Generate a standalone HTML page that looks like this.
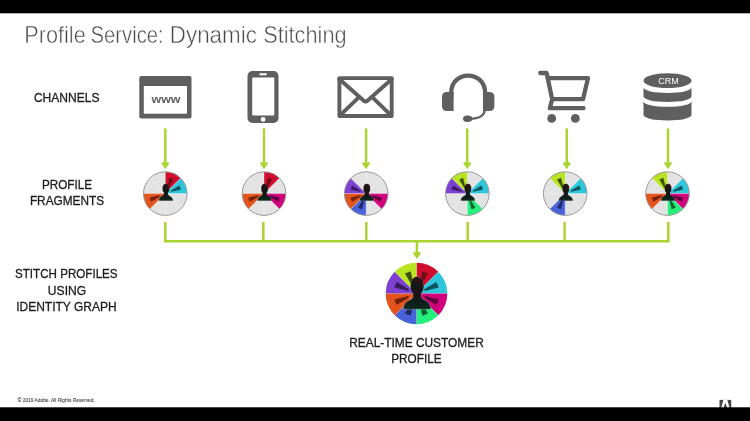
<!DOCTYPE html>
<html><head><meta charset="utf-8">
<style>
html,body{margin:0;padding:0;background:#fff;}
body{width:750px;height:421px;overflow:hidden;position:relative;font-family:"Liberation Sans",sans-serif;}
svg{will-change:transform;position:absolute;left:0;top:0;display:block;}
text{font-family:"Liberation Sans",sans-serif;}
</style></head>
<body>
<svg width="750" height="421" viewBox="0 0 750 421">
<defs><filter id="soft" filterUnits="userSpaceOnUse" x="-40" y="-40" width="830" height="501"><feGaussianBlur stdDeviation="0.42"/></filter><linearGradient id="ph" x1="0.7" y1="0" x2="0.3" y2="1"><stop offset="0" stop-color="#35101a"/><stop offset="0.6" stop-color="#141414"/></linearGradient><linearGradient id="pb" x1="0.5" y1="0" x2="0.5" y2="1"><stop offset="0.2" stop-color="#141414"/><stop offset="1" stop-color="#0a2a20"/></linearGradient></defs>
<g filter="url(#soft)">
<rect x="-30" y="-30" width="810" height="481" fill="#fff"/>
<text x="24.20" y="43.4" font-size="23.2" fill="#484848" stroke="#fff" stroke-width="0.5" textLength="61.60" lengthAdjust="spacingAndGlyphs">Profile</text>
<text x="90.50" y="43.4" font-size="23.2" fill="#484848" stroke="#fff" stroke-width="0.5" textLength="73.20" lengthAdjust="spacingAndGlyphs">Service:</text>
<text x="169.80" y="43.4" font-size="23.2" fill="#484848" stroke="#fff" stroke-width="0.5" textLength="87.10" lengthAdjust="spacingAndGlyphs">Dynamic</text>
<text x="263.20" y="43.4" font-size="23.2" fill="#484848" stroke="#fff" stroke-width="0.5" textLength="83.40" lengthAdjust="spacingAndGlyphs">Stitching</text>
<text x="66.7" y="102.3" font-size="13" fill="#1c1c1c" stroke="#1c1c1c" stroke-width="0.3" text-anchor="middle" textLength="65.6" lengthAdjust="spacingAndGlyphs" font-weight="400">CHANNELS</text>
<text x="67" y="189" font-size="13" fill="#1c1c1c" stroke="#1c1c1c" stroke-width="0.3" text-anchor="middle" textLength="50.2" lengthAdjust="spacingAndGlyphs" font-weight="400">PROFILE</text>
<text x="67" y="205.3" font-size="13" fill="#1c1c1c" stroke="#1c1c1c" stroke-width="0.3" text-anchor="middle" textLength="74.19999999999999" lengthAdjust="spacingAndGlyphs" font-weight="400">FRAGMENTS</text>
<text x="66.3" y="278.4" font-size="13" fill="#1c1c1c" stroke="#1c1c1c" stroke-width="0.3" text-anchor="middle" textLength="102.6" lengthAdjust="spacingAndGlyphs" font-weight="400">STITCH PROFILES</text>
<text x="67" y="294.8" font-size="13" fill="#1c1c1c" stroke="#1c1c1c" stroke-width="0.3" text-anchor="middle" textLength="38.300000000000004" lengthAdjust="spacingAndGlyphs" font-weight="400">USING</text>
<text x="66.4" y="311.4" font-size="13" fill="#1c1c1c" stroke="#1c1c1c" stroke-width="0.3" text-anchor="middle" textLength="100.39999999999999" lengthAdjust="spacingAndGlyphs" font-weight="400">IDENTITY GRAPH</text>
<text x="416.5" y="347" font-size="13" fill="#1c1c1c" stroke="#1c1c1c" stroke-width="0.3" text-anchor="middle" textLength="134.6" lengthAdjust="spacingAndGlyphs" font-weight="400">REAL-TIME CUSTOMER</text>
<text x="416.4" y="363.1" font-size="13" fill="#1c1c1c" stroke="#1c1c1c" stroke-width="0.3" text-anchor="middle" textLength="50.4" lengthAdjust="spacingAndGlyphs" font-weight="400">PROFILE</text>
<text x="17.8" y="402.3" font-size="5.0" fill="#505050" stroke="#505050" stroke-width="0.12" text-anchor="start" textLength="77.0" lengthAdjust="spacingAndGlyphs" font-weight="400">© 2019 Adobe.  All Rights Reserved.</text>

<!-- www -->
<rect x="139.3" y="76.1" width="52.2" height="42.3" rx="2" fill="#5f5f5f"/>
<rect x="143.8" y="86" width="43.2" height="27.7" fill="#fff"/>
<text x="166" y="102.6" font-size="10.5" font-weight="700" fill="#5f5f5f" text-anchor="middle" textLength="29" lengthAdjust="spacingAndGlyphs">www</text>
<!-- phone -->
<rect x="247.5" y="71" width="31" height="52" rx="5" fill="#5f5f5f"/>
<rect x="252.2" y="77.5" width="22.1" height="38.1" rx="0.8" fill="#fff"/>
<rect x="259.3" y="73.2" width="7.6" height="2" rx="1" fill="#fff"/>
<circle cx="263.1" cy="119.4" r="2.4" fill="#fff"/>
<!-- mail -->
<g fill="none" stroke="#5f5f5f" stroke-width="3.9" stroke-linejoin="round" stroke-linecap="round">
<rect x="339.4" y="78.1" width="52.3" height="37.9"/>
<path d="M339.2,79 L363.5,100.5 Q365.6,102.4 367.7,100.5 L391.9,79"/>
<path d="M340,115.4 L358,98.2 M391.1,115.4 L373.2,98.2"/>
</g>
<!-- headset -->
<g>
<path d="M451.2,98 V93 C451.2,69.800 485.1,69.800 485.1,93 V98" fill="none" stroke="#5f5f5f" stroke-width="4.3"/>
<path d="M453.6,92 H447 Q442,92 442,97 V106 Q442,111 447,111 H453.6 Z" fill="#5f5f5f"/>
<path d="M483,92 H489.4 Q494.4,92 494.4,97 V106 Q494.4,111 489.4,111 H483 Z" fill="#5f5f5f"/>
<path d="M484.8,109 C484.8,116 478,118.800 470,118.800" fill="none" stroke="#5f5f5f" stroke-width="2.4"/>
<ellipse cx="467.6" cy="118.8" rx="4.6" ry="3.2" fill="#5f5f5f"/>
</g>
<!-- cart -->
<g fill="none" stroke="#5f5f5f" stroke-width="4.3" stroke-linejoin="round" stroke-linecap="round">
<path d="M540.3,73 H546.6 L552.2,99.2 L549.8,108.2 H583.5"/>
<path d="M548.5,78.2 H588 L583,99.2 H552.4"/>
</g>
<circle cx="551.7" cy="118.4" r="4.4" fill="#5f5f5f"/>
<circle cx="575.3" cy="118.4" r="4.4" fill="#5f5f5f"/>
<!-- crm -->
<g fill="#5f5f5f">
<path d="M643.5,101.3 A24,5.500 0 0 0 691.5,101.3 V115 A24,5.500 0 0 1 643.5,115 Z"/>
<path d="M643.5,87.5 A24,5.500 0 0 0 691.5,87.5 V96.5 A24,5.500 0 0 1 643.5,96.5 Z"/>
<ellipse cx="667.5" cy="80.7" rx="24" ry="7.4"/>
<text x="668.5" y="84.2" font-size="9.4" fill="#fff" text-anchor="middle" textLength="20.5" lengthAdjust="spacingAndGlyphs">CRM</text>
</g>

<path d="M165.3,128.4 V166.2" stroke="#a9d432" stroke-width="2.5" fill="none"/><path d="M162.20000000000002,162.4 L165.3,167.0 L168.4,162.4" stroke="#a9d432" stroke-width="2.5" fill="none" stroke-linejoin="miter"/>
<path d="M264,128.4 V166.2" stroke="#a9d432" stroke-width="2.5" fill="none"/><path d="M260.9,162.4 L264,167.0 L267.1,162.4" stroke="#a9d432" stroke-width="2.5" fill="none" stroke-linejoin="miter"/>
<path d="M366.1,128.4 V166.2" stroke="#a9d432" stroke-width="2.5" fill="none"/><path d="M363.0,162.4 L366.1,167.0 L369.20000000000005,162.4" stroke="#a9d432" stroke-width="2.5" fill="none" stroke-linejoin="miter"/>
<path d="M467.2,128.4 V166.2" stroke="#a9d432" stroke-width="2.5" fill="none"/><path d="M464.09999999999997,162.4 L467.2,167.0 L470.3,162.4" stroke="#a9d432" stroke-width="2.5" fill="none" stroke-linejoin="miter"/>
<path d="M566.8,128.4 V166.2" stroke="#a9d432" stroke-width="2.5" fill="none"/><path d="M563.6999999999999,162.4 L566.8,167.0 L569.9,162.4" stroke="#a9d432" stroke-width="2.5" fill="none" stroke-linejoin="miter"/>
<path d="M668,128.4 V166.2" stroke="#a9d432" stroke-width="2.5" fill="none"/><path d="M664.9,162.4 L668,167.0 L671.1,162.4" stroke="#a9d432" stroke-width="2.5" fill="none" stroke-linejoin="miter"/>
<g>
<circle cx="165.3" cy="193.6" r="21.8" fill="#e3e3e3"/>
<path d="M165.30,193.60 L165.30,171.80 A21.80,21.80 0 0 1 180.71,178.19 Z" fill="#d0112f"/>
<path d="M165.30,193.60 L180.71,178.19 A21.80,21.80 0 0 1 187.10,193.60 Z" fill="#2ec6da"/>
<path d="M165.30,193.60 L149.89,209.01 A21.80,21.80 0 0 1 143.50,193.60 Z" fill="#e3531b"/>
<line x1="165.3" y1="193.6" x2="165.30" y2="171.80" stroke="#fff" stroke-width="0.7" stroke-opacity="0.55"/>
<line x1="165.3" y1="193.6" x2="180.71" y2="178.19" stroke="#fff" stroke-width="0.7" stroke-opacity="0.55"/>
<line x1="165.3" y1="193.6" x2="187.10" y2="193.60" stroke="#fff" stroke-width="0.7" stroke-opacity="0.55"/>
<line x1="165.3" y1="193.6" x2="180.71" y2="209.01" stroke="#fff" stroke-width="0.7" stroke-opacity="0.55"/>
<line x1="165.3" y1="193.6" x2="165.30" y2="215.40" stroke="#fff" stroke-width="0.7" stroke-opacity="0.55"/>
<line x1="165.3" y1="193.6" x2="149.89" y2="209.01" stroke="#fff" stroke-width="0.7" stroke-opacity="0.55"/>
<line x1="165.3" y1="193.6" x2="143.50" y2="193.60" stroke="#fff" stroke-width="0.7" stroke-opacity="0.55"/>
<line x1="165.3" y1="193.6" x2="149.89" y2="178.19" stroke="#fff" stroke-width="0.7" stroke-opacity="0.55"/>
<polygon points="168.24,188.21 173.49,179.53 169.46,177.86 167.03,187.71" fill="#6e0818"/>
<polygon points="171.19,191.87 181.04,189.44 179.37,185.41 170.69,190.66" fill="#10535e"/>
<polygon points="159.41,195.33 149.56,197.76 151.23,201.79 159.91,196.54" fill="#74200c"/>
<circle cx="165.3" cy="193.6" r="21.8" fill="none" stroke="#9a9a9a" stroke-width="1"/>
<path d="M167.90,191.80 L167.90,194.10 C168.20,195.40 169.50,195.80 170.60,196.40 C172.00,197.20 172.90,198.40 173.00,200.80 L158.80,200.80 C158.90,198.40 159.80,197.20 161.20,196.40 C162.30,195.80 163.60,195.40 163.90,194.10 L163.90,191.80 Z" fill="url(#pb)" stroke="#d8d8d8" stroke-opacity="0.35" stroke-width="0.50"/><ellipse cx="165.90" cy="188.40" rx="3.40" ry="4.60" fill="url(#ph)" stroke="#d8d8d8" stroke-opacity="0.25" stroke-width="0.40"/><rect x="164.00" y="191.30" width="3.80" height="3.00" fill="#161616"/>
</g>
<g>
<circle cx="264" cy="193.6" r="21.8" fill="#e3e3e3"/>
<path d="M264.00,193.60 L264.00,171.80 A21.80,21.80 0 0 1 279.41,178.19 Z" fill="#d0112f"/>
<path d="M264.00,193.60 L285.80,193.60 A21.80,21.80 0 0 1 279.41,209.01 Z" fill="#d1007d"/>
<path d="M264.00,193.60 L248.59,209.01 A21.80,21.80 0 0 1 242.20,193.60 Z" fill="#e3531b"/>
<line x1="264" y1="193.6" x2="264.00" y2="171.80" stroke="#fff" stroke-width="0.7" stroke-opacity="0.55"/>
<line x1="264" y1="193.6" x2="279.41" y2="178.19" stroke="#fff" stroke-width="0.7" stroke-opacity="0.55"/>
<line x1="264" y1="193.6" x2="285.80" y2="193.60" stroke="#fff" stroke-width="0.7" stroke-opacity="0.55"/>
<line x1="264" y1="193.6" x2="279.41" y2="209.01" stroke="#fff" stroke-width="0.7" stroke-opacity="0.55"/>
<line x1="264" y1="193.6" x2="264.00" y2="215.40" stroke="#fff" stroke-width="0.7" stroke-opacity="0.55"/>
<line x1="264" y1="193.6" x2="248.59" y2="209.01" stroke="#fff" stroke-width="0.7" stroke-opacity="0.55"/>
<line x1="264" y1="193.6" x2="242.20" y2="193.60" stroke="#fff" stroke-width="0.7" stroke-opacity="0.55"/>
<line x1="264" y1="193.6" x2="248.59" y2="178.19" stroke="#fff" stroke-width="0.7" stroke-opacity="0.55"/>
<polygon points="266.94,188.21 272.19,179.53 268.16,177.86 265.73,187.71" fill="#6e0818"/>
<polygon points="269.39,196.54 278.07,201.79 279.74,197.76 269.89,195.33" fill="#5e0038"/>
<polygon points="258.11,195.33 248.26,197.76 249.93,201.79 258.61,196.54" fill="#74200c"/>
<circle cx="264" cy="193.6" r="21.8" fill="none" stroke="#9a9a9a" stroke-width="1"/>
<path d="M266.60,191.80 L266.60,194.10 C266.90,195.40 268.20,195.80 269.30,196.40 C270.70,197.20 271.60,198.40 271.70,200.80 L257.50,200.80 C257.60,198.40 258.50,197.20 259.90,196.40 C261.00,195.80 262.30,195.40 262.60,194.10 L262.60,191.80 Z" fill="url(#pb)" stroke="#d8d8d8" stroke-opacity="0.35" stroke-width="0.50"/><ellipse cx="264.60" cy="188.40" rx="3.40" ry="4.60" fill="url(#ph)" stroke="#d8d8d8" stroke-opacity="0.25" stroke-width="0.40"/><rect x="262.70" y="191.30" width="3.80" height="3.00" fill="#161616"/>
</g>
<g>
<circle cx="366.2" cy="193.6" r="21.8" fill="#e3e3e3"/>
<path d="M366.20,193.60 L388.00,193.60 A21.80,21.80 0 0 1 381.61,209.01 Z" fill="#d1007d"/>
<path d="M366.20,193.60 L366.20,215.40 A21.80,21.80 0 0 1 350.79,209.01 Z" fill="#4a62dc"/>
<path d="M366.20,193.60 L350.79,209.01 A21.80,21.80 0 0 1 344.40,193.60 Z" fill="#e3531b"/>
<path d="M366.20,193.60 L344.40,193.60 A21.80,21.80 0 0 1 350.79,178.19 Z" fill="#7e40d0"/>
<line x1="366.2" y1="193.6" x2="366.20" y2="171.80" stroke="#fff" stroke-width="0.7" stroke-opacity="0.55"/>
<line x1="366.2" y1="193.6" x2="381.61" y2="178.19" stroke="#fff" stroke-width="0.7" stroke-opacity="0.55"/>
<line x1="366.2" y1="193.6" x2="388.00" y2="193.60" stroke="#fff" stroke-width="0.7" stroke-opacity="0.55"/>
<line x1="366.2" y1="193.6" x2="381.61" y2="209.01" stroke="#fff" stroke-width="0.7" stroke-opacity="0.55"/>
<line x1="366.2" y1="193.6" x2="366.20" y2="215.40" stroke="#fff" stroke-width="0.7" stroke-opacity="0.55"/>
<line x1="366.2" y1="193.6" x2="350.79" y2="209.01" stroke="#fff" stroke-width="0.7" stroke-opacity="0.55"/>
<line x1="366.2" y1="193.6" x2="344.40" y2="193.60" stroke="#fff" stroke-width="0.7" stroke-opacity="0.55"/>
<line x1="366.2" y1="193.6" x2="350.79" y2="178.19" stroke="#fff" stroke-width="0.7" stroke-opacity="0.55"/>
<polygon points="371.59,196.54 380.27,201.79 381.94,197.76 372.09,195.33" fill="#5e0038"/>
<polygon points="363.26,198.99 358.01,207.67 362.04,209.34 364.47,199.49" fill="#1f2a66"/>
<polygon points="360.31,195.33 350.46,197.76 352.13,201.79 360.81,196.54" fill="#74200c"/>
<polygon points="360.81,190.66 352.13,185.41 350.46,189.44 360.31,191.87" fill="#381b62"/>
<circle cx="366.2" cy="193.6" r="21.8" fill="none" stroke="#9a9a9a" stroke-width="1"/>
<path d="M368.80,191.80 L368.80,194.10 C369.10,195.40 370.40,195.80 371.50,196.40 C372.90,197.20 373.80,198.40 373.90,200.80 L359.70,200.80 C359.80,198.40 360.70,197.20 362.10,196.40 C363.20,195.80 364.50,195.40 364.80,194.10 L364.80,191.80 Z" fill="url(#pb)" stroke="#d8d8d8" stroke-opacity="0.35" stroke-width="0.50"/><ellipse cx="366.80" cy="188.40" rx="3.40" ry="4.60" fill="url(#ph)" stroke="#d8d8d8" stroke-opacity="0.25" stroke-width="0.40"/><rect x="364.90" y="191.30" width="3.80" height="3.00" fill="#161616"/>
</g>
<g>
<circle cx="467.3" cy="193.6" r="21.8" fill="#e3e3e3"/>
<path d="M467.30,193.60 L482.71,178.19 A21.80,21.80 0 0 1 489.10,193.60 Z" fill="#2ec6da"/>
<path d="M467.30,193.60 L482.71,209.01 A21.80,21.80 0 0 1 467.30,215.40 Z" fill="#25f07c"/>
<path d="M467.30,193.60 L445.50,193.60 A21.80,21.80 0 0 1 451.89,178.19 Z" fill="#7e40d0"/>
<path d="M467.30,193.60 L451.89,178.19 A21.80,21.80 0 0 1 467.30,171.80 Z" fill="#b8e424"/>
<line x1="467.3" y1="193.6" x2="467.30" y2="171.80" stroke="#fff" stroke-width="0.7" stroke-opacity="0.55"/>
<line x1="467.3" y1="193.6" x2="482.71" y2="178.19" stroke="#fff" stroke-width="0.7" stroke-opacity="0.55"/>
<line x1="467.3" y1="193.6" x2="489.10" y2="193.60" stroke="#fff" stroke-width="0.7" stroke-opacity="0.55"/>
<line x1="467.3" y1="193.6" x2="482.71" y2="209.01" stroke="#fff" stroke-width="0.7" stroke-opacity="0.55"/>
<line x1="467.3" y1="193.6" x2="467.30" y2="215.40" stroke="#fff" stroke-width="0.7" stroke-opacity="0.55"/>
<line x1="467.3" y1="193.6" x2="451.89" y2="209.01" stroke="#fff" stroke-width="0.7" stroke-opacity="0.55"/>
<line x1="467.3" y1="193.6" x2="445.50" y2="193.60" stroke="#fff" stroke-width="0.7" stroke-opacity="0.55"/>
<line x1="467.3" y1="193.6" x2="451.89" y2="178.19" stroke="#fff" stroke-width="0.7" stroke-opacity="0.55"/>
<polygon points="473.19,191.87 483.04,189.44 481.37,185.41 472.69,190.66" fill="#10535e"/>
<polygon points="469.03,199.49 471.46,209.34 475.49,207.67 470.24,198.99" fill="#0d6332"/>
<polygon points="461.91,190.66 453.23,185.41 451.56,189.44 461.41,191.87" fill="#381b62"/>
<polygon points="465.57,187.71 463.14,177.86 459.11,179.53 464.36,188.21" fill="#3f5210"/>
<circle cx="467.3" cy="193.6" r="21.8" fill="none" stroke="#9a9a9a" stroke-width="1"/>
<path d="M469.90,191.80 L469.90,194.10 C470.20,195.40 471.50,195.80 472.60,196.40 C474.00,197.20 474.90,198.40 475.00,200.80 L460.80,200.80 C460.90,198.40 461.80,197.20 463.20,196.40 C464.30,195.80 465.60,195.40 465.90,194.10 L465.90,191.80 Z" fill="url(#pb)" stroke="#d8d8d8" stroke-opacity="0.35" stroke-width="0.50"/><ellipse cx="467.90" cy="188.40" rx="3.40" ry="4.60" fill="url(#ph)" stroke="#d8d8d8" stroke-opacity="0.25" stroke-width="0.40"/><rect x="466.00" y="191.30" width="3.80" height="3.00" fill="#161616"/>
</g>
<g>
<circle cx="565.2" cy="193.6" r="21.8" fill="#e3e3e3"/>
<path d="M565.20,193.60 L580.61,178.19 A21.80,21.80 0 0 1 587.00,193.60 Z" fill="#2ec6da"/>
<path d="M565.20,193.60 L565.20,215.40 A21.80,21.80 0 0 1 549.79,209.01 Z" fill="#4a62dc"/>
<path d="M565.20,193.60 L549.79,178.19 A21.80,21.80 0 0 1 565.20,171.80 Z" fill="#b8e424"/>
<line x1="565.2" y1="193.6" x2="565.20" y2="171.80" stroke="#fff" stroke-width="0.7" stroke-opacity="0.55"/>
<line x1="565.2" y1="193.6" x2="580.61" y2="178.19" stroke="#fff" stroke-width="0.7" stroke-opacity="0.55"/>
<line x1="565.2" y1="193.6" x2="587.00" y2="193.60" stroke="#fff" stroke-width="0.7" stroke-opacity="0.55"/>
<line x1="565.2" y1="193.6" x2="580.61" y2="209.01" stroke="#fff" stroke-width="0.7" stroke-opacity="0.55"/>
<line x1="565.2" y1="193.6" x2="565.20" y2="215.40" stroke="#fff" stroke-width="0.7" stroke-opacity="0.55"/>
<line x1="565.2" y1="193.6" x2="549.79" y2="209.01" stroke="#fff" stroke-width="0.7" stroke-opacity="0.55"/>
<line x1="565.2" y1="193.6" x2="543.40" y2="193.60" stroke="#fff" stroke-width="0.7" stroke-opacity="0.55"/>
<line x1="565.2" y1="193.6" x2="549.79" y2="178.19" stroke="#fff" stroke-width="0.7" stroke-opacity="0.55"/>
<polygon points="571.09,191.87 580.94,189.44 579.27,185.41 570.59,190.66" fill="#10535e"/>
<polygon points="562.26,198.99 557.01,207.67 561.04,209.34 563.47,199.49" fill="#1f2a66"/>
<polygon points="563.47,187.71 561.04,177.86 557.01,179.53 562.26,188.21" fill="#3f5210"/>
<circle cx="565.2" cy="193.6" r="21.8" fill="none" stroke="#9a9a9a" stroke-width="1"/>
<path d="M567.80,191.80 L567.80,194.10 C568.10,195.40 569.40,195.80 570.50,196.40 C571.90,197.20 572.80,198.40 572.90,200.80 L558.70,200.80 C558.80,198.40 559.70,197.20 561.10,196.40 C562.20,195.80 563.50,195.40 563.80,194.10 L563.80,191.80 Z" fill="url(#pb)" stroke="#d8d8d8" stroke-opacity="0.35" stroke-width="0.50"/><ellipse cx="565.80" cy="188.40" rx="3.40" ry="4.60" fill="url(#ph)" stroke="#d8d8d8" stroke-opacity="0.25" stroke-width="0.40"/><rect x="563.90" y="191.30" width="3.80" height="3.00" fill="#161616"/>
</g>
<g>
<circle cx="667.5" cy="193.6" r="21.8" fill="#e3e3e3"/>
<path d="M667.50,193.60 L682.91,178.19 A21.80,21.80 0 0 1 689.30,193.60 Z" fill="#2ec6da"/>
<path d="M667.50,193.60 L689.30,193.60 A21.80,21.80 0 0 1 682.91,209.01 Z" fill="#d1007d"/>
<path d="M667.50,193.60 L682.91,209.01 A21.80,21.80 0 0 1 667.50,215.40 Z" fill="#25f07c"/>
<path d="M667.50,193.60 L652.09,209.01 A21.80,21.80 0 0 1 645.70,193.60 Z" fill="#e3531b"/>
<path d="M667.50,193.60 L652.09,178.19 A21.80,21.80 0 0 1 667.50,171.80 Z" fill="#b8e424"/>
<line x1="667.5" y1="193.6" x2="667.50" y2="171.80" stroke="#fff" stroke-width="0.7" stroke-opacity="0.55"/>
<line x1="667.5" y1="193.6" x2="682.91" y2="178.19" stroke="#fff" stroke-width="0.7" stroke-opacity="0.55"/>
<line x1="667.5" y1="193.6" x2="689.30" y2="193.60" stroke="#fff" stroke-width="0.7" stroke-opacity="0.55"/>
<line x1="667.5" y1="193.6" x2="682.91" y2="209.01" stroke="#fff" stroke-width="0.7" stroke-opacity="0.55"/>
<line x1="667.5" y1="193.6" x2="667.50" y2="215.40" stroke="#fff" stroke-width="0.7" stroke-opacity="0.55"/>
<line x1="667.5" y1="193.6" x2="652.09" y2="209.01" stroke="#fff" stroke-width="0.7" stroke-opacity="0.55"/>
<line x1="667.5" y1="193.6" x2="645.70" y2="193.60" stroke="#fff" stroke-width="0.7" stroke-opacity="0.55"/>
<line x1="667.5" y1="193.6" x2="652.09" y2="178.19" stroke="#fff" stroke-width="0.7" stroke-opacity="0.55"/>
<polygon points="673.39,191.87 683.24,189.44 681.57,185.41 672.89,190.66" fill="#10535e"/>
<polygon points="672.89,196.54 681.57,201.79 683.24,197.76 673.39,195.33" fill="#5e0038"/>
<polygon points="669.23,199.49 671.66,209.34 675.69,207.67 670.44,198.99" fill="#0d6332"/>
<polygon points="661.61,195.33 651.76,197.76 653.43,201.79 662.11,196.54" fill="#74200c"/>
<polygon points="665.77,187.71 663.34,177.86 659.31,179.53 664.56,188.21" fill="#3f5210"/>
<circle cx="667.5" cy="193.6" r="21.8" fill="none" stroke="#9a9a9a" stroke-width="1"/>
<path d="M670.10,191.80 L670.10,194.10 C670.40,195.40 671.70,195.80 672.80,196.40 C674.20,197.20 675.10,198.40 675.20,200.80 L661.00,200.80 C661.10,198.40 662.00,197.20 663.40,196.40 C664.50,195.80 665.80,195.40 666.10,194.10 L666.10,191.80 Z" fill="url(#pb)" stroke="#d8d8d8" stroke-opacity="0.35" stroke-width="0.50"/><ellipse cx="668.10" cy="188.40" rx="3.40" ry="4.60" fill="url(#ph)" stroke="#d8d8d8" stroke-opacity="0.25" stroke-width="0.40"/><rect x="666.20" y="191.30" width="3.80" height="3.00" fill="#161616"/>
</g>
<path d="M165.3,222 V241.2" stroke="#a9d432" stroke-width="2.5" fill="none"/>
<path d="M263.3,222 V241.2" stroke="#a9d432" stroke-width="2.5" fill="none"/>
<path d="M366.3,222 V241.2" stroke="#a9d432" stroke-width="2.5" fill="none"/>
<path d="M467.7,222 V241.2" stroke="#a9d432" stroke-width="2.5" fill="none"/>
<path d="M564.6,222 V241.2" stroke="#a9d432" stroke-width="2.5" fill="none"/>
<path d="M668.3,222 V241.2" stroke="#a9d432" stroke-width="2.5" fill="none"/>
<path d="M164.05,241.2 H669.55" stroke="#a9d432" stroke-width="2.5" fill="none"/>
<path d="M416.9,241.2 V256.0" stroke="#a9d432" stroke-width="2.5" fill="none"/><path d="M413.79999999999995,252.20000000000002 L416.9,256.8 L420.0,252.20000000000002" stroke="#a9d432" stroke-width="2.5" fill="none" stroke-linejoin="miter"/>
<g>
<path d="M416.50,293.50 L416.50,262.70 A30.80,30.80 0 0 1 438.28,271.72 Z" fill="#d0112f"/>
<path d="M416.50,293.50 L438.28,271.72 A30.80,30.80 0 0 1 447.30,293.50 Z" fill="#2ec6da"/>
<path d="M416.50,293.50 L447.30,293.50 A30.80,30.80 0 0 1 438.28,315.28 Z" fill="#d1007d"/>
<path d="M416.50,293.50 L438.28,315.28 A30.80,30.80 0 0 1 416.50,324.30 Z" fill="#25f07c"/>
<path d="M416.50,293.50 L416.50,324.30 A30.80,30.80 0 0 1 394.72,315.28 Z" fill="#4a62dc"/>
<path d="M416.50,293.50 L394.72,315.28 A30.80,30.80 0 0 1 385.70,293.50 Z" fill="#e3531b"/>
<path d="M416.50,293.50 L385.70,293.50 A30.80,30.80 0 0 1 394.72,271.72 Z" fill="#7e40d0"/>
<path d="M416.50,293.50 L394.72,271.72 A30.80,30.80 0 0 1 416.50,262.70 Z" fill="#b8e424"/>
<line x1="416.5" y1="293.5" x2="416.50" y2="262.70" stroke="#fff" stroke-width="0.4" stroke-opacity="0.25"/>
<line x1="416.5" y1="293.5" x2="438.28" y2="271.72" stroke="#fff" stroke-width="0.4" stroke-opacity="0.25"/>
<line x1="416.5" y1="293.5" x2="447.30" y2="293.50" stroke="#fff" stroke-width="0.4" stroke-opacity="0.25"/>
<line x1="416.5" y1="293.5" x2="438.28" y2="315.28" stroke="#fff" stroke-width="0.4" stroke-opacity="0.25"/>
<line x1="416.5" y1="293.5" x2="416.50" y2="324.30" stroke="#fff" stroke-width="0.4" stroke-opacity="0.25"/>
<line x1="416.5" y1="293.5" x2="394.72" y2="315.28" stroke="#fff" stroke-width="0.4" stroke-opacity="0.25"/>
<line x1="416.5" y1="293.5" x2="385.70" y2="293.50" stroke="#fff" stroke-width="0.4" stroke-opacity="0.25"/>
<line x1="416.5" y1="293.5" x2="394.72" y2="271.72" stroke="#fff" stroke-width="0.4" stroke-opacity="0.25"/>
<polygon points="420.65,285.89 428.07,273.62 422.38,271.26 418.95,285.18" fill="#6e0818"/>
<polygon points="424.82,291.05 438.74,287.62 436.38,281.93 424.11,289.35" fill="#10535e"/>
<polygon points="424.11,297.65 436.38,305.07 438.74,299.38 424.82,295.95" fill="#5e0038"/>
<polygon points="418.95,301.82 422.38,315.74 428.07,313.38 420.65,301.11" fill="#0d6332"/>
<polygon points="412.35,301.11 404.93,313.38 410.62,315.74 414.05,301.82" fill="#1f2a66"/>
<polygon points="408.18,295.95 394.26,299.38 396.62,305.07 408.89,297.65" fill="#74200c"/>
<polygon points="408.89,289.35 396.62,281.93 394.26,287.62 408.18,291.05" fill="#381b62"/>
<polygon points="414.05,285.18 410.62,271.26 404.93,273.62 412.35,285.89" fill="#3f5210"/>
<path d="M420.96,291.94 L420.96,296.38 C421.54,298.89 424.05,299.66 426.17,300.82 C428.87,302.36 430.61,304.68 430.80,309.31 L403.40,309.31 C403.59,304.68 405.33,302.36 408.03,300.82 C410.15,299.66 412.66,298.89 413.24,296.38 L413.24,291.94 Z" fill="url(#pb)" stroke="#d8d8d8" stroke-opacity="0.35" stroke-width="0.96"/><ellipse cx="417.10" cy="286.05" rx="6.75" ry="9.55" fill="url(#ph)" stroke="#d8d8d8" stroke-opacity="0.25" stroke-width="0.77"/><rect x="413.43" y="290.98" width="7.33" height="5.79" fill="#161616"/>
</g>
<rect x="719.5" y="399.9" width="11.7" height="10.3" fill="#454545"/><polygon points="723.36,399.90 727.34,399.90 730.26,410.20 728.04,410.20 725.35,402.68 722.66,410.20 720.44,410.20" fill="#fff"/>
<rect x="-30" y="-30" width="810" height="43.3" fill="#000"/>
<rect x="-30" y="407.3" width="810" height="43.7" fill="#000"/>
</g>
</svg>
</body></html>
